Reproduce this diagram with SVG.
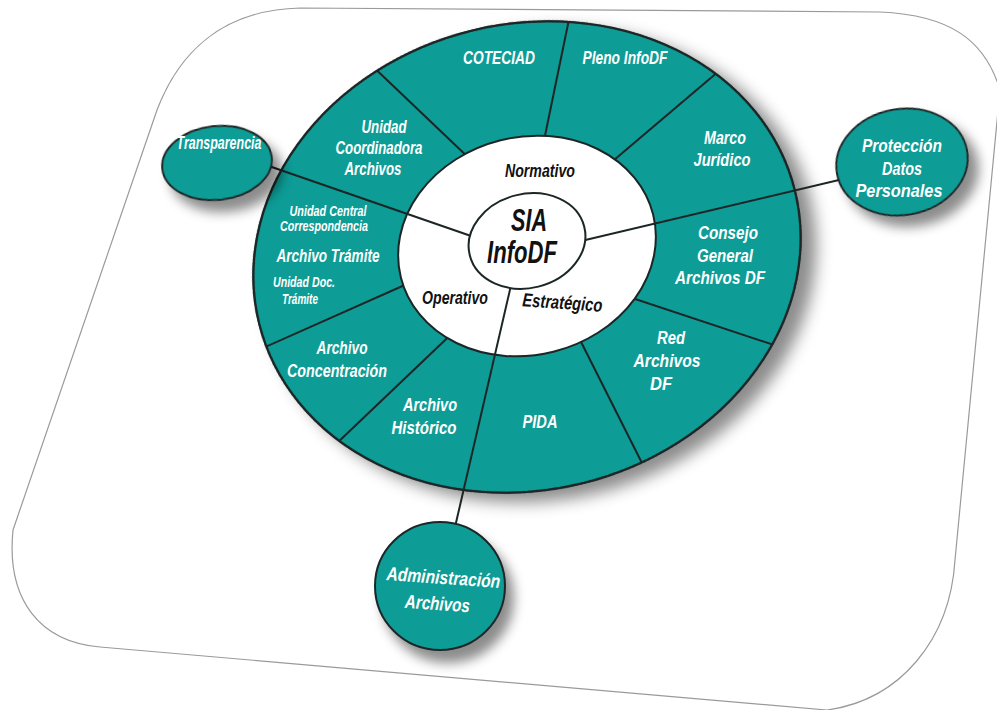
<svg xmlns="http://www.w3.org/2000/svg" width="997" height="710" viewBox="0 0 997 710">
  <defs>
    <style>
      .card { fill: #fff; stroke: #9a9a9a; stroke-width: 1.2; }
      .teal { fill: #0e9c96; stroke: #1c2626; stroke-width: 2; }
      .white { fill: #fff; stroke: #1c2626; stroke-width: 2; }
      .div { stroke: #1c2626; stroke-width: 2; fill: none; }
      .conn { stroke: #1c2626; stroke-width: 2; fill: none; }
      .lbl { font-family: "Liberation Sans Narrow", "Liberation Sans", Arial, sans-serif; font-weight: bold; font-style: italic; fill: #fff; text-anchor: middle; font-size: 19px; }
      .sm { font-size: 14px; }
      .dk { fill: #111; }
      .big { font-size: 31px; }
    </style>
    <filter id="shadow" x="-20%" y="-20%" width="150%" height="150%">
      <feGaussianBlur in="SourceAlpha" stdDeviation="8"/>
      <feOffset dx="12" dy="12" result="b"/>
      <feFlood flood-color="#000" flood-opacity="0.45"/>
      <feComposite in2="b" operator="in"/>
      <feMerge><feMergeNode/><feMergeNode in="SourceGraphic"/></feMerge>
    </filter>
    <filter id="shadowSm" x="-40%" y="-40%" width="200%" height="200%">
      <feGaussianBlur in="SourceAlpha" stdDeviation="6"/>
      <feOffset dx="8" dy="12" result="b"/>
      <feFlood flood-color="#000" flood-opacity="0.45"/>
      <feComposite in2="b" operator="in"/>
      <feMerge><feMergeNode/><feMergeNode in="SourceGraphic"/></feMerge>
    </filter>
    <clipPath id="outerClip">
      <ellipse cx="527" cy="257" rx="276" ry="233" transform="rotate(-14 527 257)"/>
    </clipPath>
  </defs>

  <!-- card outline -->
  <path class="card" d="M300,8 L880,12 C950,15 985,40 1000,90 L955,560 C950,640 900,700 827,710 L100,647 C40,642 6,600 13,530 L157,110 C178,55 220,10 300,8 Z"/>

  <!-- outer ring with its segments -->
  <g id="ring">
    <ellipse class="teal" cx="527" cy="257" rx="276" ry="233" transform="rotate(-14 527 257)" filter="url(#shadow)"/>
    <g clip-path="url(#outerClip)">
      <line class="div" x1="366" y1="60" x2="493" y2="181"/>
      <line class="div" x1="574" y1="-5" x2="540" y2="160"/>
      <line class="div" x1="739" y1="54" x2="594" y2="177"/>
      <line class="div" x1="792" y1="351" x2="605" y2="289"/>
      <line class="div" x1="648" y1="475" x2="569" y2="318"/>
      <line class="div" x1="314" y1="465" x2="463" y2="323"/>
      <line class="div" x1="236" y1="360" x2="425" y2="276"/>
    </g>
    <ellipse cx="527" cy="257" rx="276" ry="233" transform="rotate(-14 527 257)" fill="none" stroke="#1c2626" stroke-width="2"/>

    <g id="seg-coteciad"><text class="lbl" x="499" y="64" textLength="72" lengthAdjust="spacingAndGlyphs">COTECIAD</text></g>
    <g id="seg-pleno"><text class="lbl" x="625" y="64" textLength="85" lengthAdjust="spacingAndGlyphs">Pleno InfoDF</text></g>
    <g id="seg-marco">
      <text class="lbl" x="725" y="144" textLength="42" lengthAdjust="spacingAndGlyphs">Marco</text>
      <text class="lbl" x="722" y="166" textLength="57" lengthAdjust="spacingAndGlyphs">Jurídico</text>
    </g>
    <g id="seg-consejo">
      <text class="lbl" x="728" y="239" textLength="60" lengthAdjust="spacingAndGlyphs">Consejo</text>
      <text class="lbl" x="725" y="262" textLength="56" lengthAdjust="spacingAndGlyphs">General</text>
      <text class="lbl" x="720" y="284" textLength="90" lengthAdjust="spacingAndGlyphs">Archivos DF</text>
    </g>
    <g id="seg-red">
      <text class="lbl" x="671" y="344" textLength="28" lengthAdjust="spacingAndGlyphs">Red</text>
      <text class="lbl" x="667" y="367" textLength="67" lengthAdjust="spacingAndGlyphs">Archivos</text>
      <text class="lbl" x="661" y="390" textLength="22" lengthAdjust="spacingAndGlyphs">DF</text>
    </g>
    <g id="seg-pida"><text class="lbl" x="540" y="428" textLength="35" lengthAdjust="spacingAndGlyphs">PIDA</text></g>
    <g id="seg-historico">
      <text class="lbl" x="430" y="411" textLength="54" lengthAdjust="spacingAndGlyphs">Archivo</text>
      <text class="lbl" x="424" y="434" textLength="65" lengthAdjust="spacingAndGlyphs">Histórico</text>
    </g>
    <g id="seg-concentracion">
      <text class="lbl" x="342" y="354" textLength="51" lengthAdjust="spacingAndGlyphs">Archivo</text>
      <text class="lbl" x="337" y="377" textLength="100" lengthAdjust="spacingAndGlyphs">Concentración</text>
    </g>
    <g id="seg-tramite">
      <text class="lbl sm" x="328" y="216" textLength="77" lengthAdjust="spacingAndGlyphs">Unidad Central</text>
      <text class="lbl sm" x="324" y="231" textLength="88" lengthAdjust="spacingAndGlyphs">Correspondencia</text>
      <text class="lbl" x="328" y="262" textLength="103" lengthAdjust="spacingAndGlyphs">Archivo Trámite</text>
      <text class="lbl sm" x="304" y="287" textLength="62" lengthAdjust="spacingAndGlyphs">Unidad Doc.</text>
      <text class="lbl sm" x="300" y="304" textLength="36" lengthAdjust="spacingAndGlyphs">Trámite</text>
    </g>
    <g id="seg-coordinadora">
      <text class="lbl" x="384" y="133" textLength="45" lengthAdjust="spacingAndGlyphs">Unidad</text>
      <text class="lbl" x="379" y="154" textLength="87" lengthAdjust="spacingAndGlyphs">Coordinadora</text>
      <text class="lbl" x="373" y="175" textLength="57" lengthAdjust="spacingAndGlyphs">Archivos</text>
    </g>
  </g>

  <!-- inner ring: the three areas -->
  <g id="inner-ring">
    <ellipse class="white" cx="527" cy="246" rx="130" ry="109" transform="rotate(-14 527 246)"/>
    <text class="lbl dk" x="540" y="177" textLength="70" lengthAdjust="spacingAndGlyphs">Normativo</text>
    <text class="lbl dk" x="455" y="304" textLength="66" lengthAdjust="spacingAndGlyphs">Operativo</text>
    <text class="lbl dk" x="562" y="309" textLength="80" lengthAdjust="spacingAndGlyphs" transform="rotate(4 562 309)">Estratégico</text>
  </g>

  <!-- connectors from the satellites to the core -->
  <g id="connectors">
    <line class="conn" x1="240" y1="156" x2="500" y2="246"/>
    <line class="conn" x1="860" y1="175" x2="560" y2="246"/>
    <line class="conn" x1="515" y1="268" x2="452" y2="540"/>
  </g>

  <!-- core -->
  <g id="core">
    <ellipse class="white" cx="527" cy="241" rx="59" ry="47" transform="rotate(-14 527 241)"/>
    <text class="lbl dk big" x="529" y="231" textLength="36" lengthAdjust="spacingAndGlyphs">SIA</text>
    <text class="lbl dk big" x="522" y="263" textLength="70" lengthAdjust="spacingAndGlyphs">InfoDF</text>
  </g>

  <!-- satellites -->
  <g id="transparencia">
    <ellipse class="teal" cx="217" cy="163" rx="55" ry="37" transform="rotate(-6 217 163)" filter="url(#shadowSm)"/>
    <text class="lbl" x="219" y="149" font-size="16" textLength="85" lengthAdjust="spacingAndGlyphs">Transparencia</text>
  </g>
  <g id="proteccion-datos">
    <ellipse class="teal" cx="902" cy="162" rx="66" ry="53" transform="rotate(-10 902 162)" filter="url(#shadowSm)"/>
    <text class="lbl" x="902" y="152" textLength="80" lengthAdjust="spacingAndGlyphs">Protección</text>
    <text class="lbl" x="902" y="175" textLength="40" lengthAdjust="spacingAndGlyphs">Datos</text>
    <text class="lbl" x="899" y="197" textLength="87" lengthAdjust="spacingAndGlyphs">Personales</text>
  </g>
  <g id="administracion-archivos">
    <ellipse class="teal" cx="440" cy="586" rx="65" ry="64" filter="url(#shadowSm)"/>
    <text class="lbl" x="443" y="584" textLength="114" lengthAdjust="spacingAndGlyphs" transform="rotate(4 443 584)">Administración</text>
    <text class="lbl" x="437" y="610" textLength="65" lengthAdjust="spacingAndGlyphs" transform="rotate(4 437 610)">Archivos</text>
  </g>
</svg>
